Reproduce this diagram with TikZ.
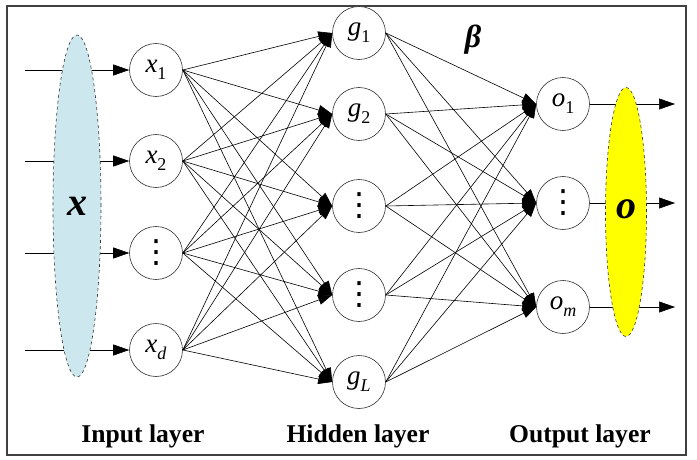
\documentclass[tikz,border=0pt]{standalone}
\usepackage{fontspec}
\setmainfont{Liberation Serif}
\newfontfamily\dvs{DejaVu Sans}
\usetikzlibrary{arrows.meta,shapes.geometric}
\definecolor{inblue}{RGB}{204,232,238}
\definecolor{outyellow}{RGB}{255,255,0}
\newcommand\sub[2]{\textit{#1}\raisebox{-0.25em}{\fontsize{18}{18}\selectfont #2}}
\newcommand\vd{{\dvs\fontsize{32}{32}\selectfont ⋮}}
\begin{document}
\begin{tikzpicture}[x=1pt,y=-1pt,
  neuron/.style={circle,draw=black!80,line width=0.6pt,minimum size=53pt,inner sep=0pt,fill=white,font=\fontsize{27}{27}\selectfont},
  conn/.style={-{Triangle[length=14pt,width=10pt]},line width=0.6pt},
  bigarrow/.style={-{Triangle[length=16pt,width=11pt]},line width=0.6pt},
  blob/.style={ellipse,draw=black!80,dashed,line width=0.6pt,inner sep=0pt},
  layerlabel/.style={anchor=base,font=\fontsize{25.6}{30}\selectfont\bfseries}]
\useasboundingbox (0,0) rectangle (697,460);
\fill[white] (0,0) rectangle (697,460);
\draw[line width=1.4pt,draw=black!75] (7,6) rectangle (686,455);

% input nodes
\node[neuron] (x1) at (156,70) {\sub{x}{1}};
\node[neuron] (x2) at (156,161) {\sub{x}{2}};
\node[neuron] (x3) at (156,253) {\vd};
\node[neuron] (x4) at (156,350) {\sub{x}{\textit{d}}};

% hidden nodes
\node[neuron] (h1) at (359,33) {\sub{g}{1}};
\node[neuron] (h2) at (359,114) {\sub{g}{2}};
\node[neuron] (h3) at (359,206) {\vd};
\node[neuron] (h4) at (359,295) {\vd};
\node[neuron] (h5) at (359,382) {\sub{g}{\textit{L}}};

% output nodes
\node[neuron] (o1) at (563,104) {\sub{o}{1}};
\node[neuron] (o2) at (563,203) {\vd};
\node[neuron] (o3) at (563,307) {\sub{o}{\textit{m}}};

% connections
\foreach \i in {x1,x2,x3,x4}
  \foreach \j in {h1,h2,h3,h4,h5}
    \draw[conn] (\i.east) -- (\j.west);
\foreach \i in {h1,h2,h3,h4,h5}
  \foreach \j in {o1,o2,o3}
    \draw[conn] (\i.east) -- (\j.west);

% input and output arrows
\coordinate (ie) at (25,0);
\coordinate (oe) at (675,0);
\foreach \i in {x1,x2,x3,x4}
  \draw[bigarrow] (\i.west -| ie) -- (\i.west);
\foreach \j in {o1,o2,o3}
  \draw[bigarrow] (\j.east) -- (\j.east -| oe);

% vectors
\node[blob,fill=inblue,minimum width=48pt,minimum height=342pt] (X) at (77,206)
  {\fontsize{40}{40}\selectfont\bfseries\itshape x};
\node[blob,fill=outyellow,minimum width=41pt,minimum height=249pt] (O) at (626,212)
  {\raisebox{6pt}{\fontsize{40}{40}\selectfont\bfseries\itshape o}};

\node (beta) at (473,40) {\fontsize{32}{32}\selectfont\bfseries\itshape β};

% layer labels
\node[layerlabel] (li) at (143,442) {Input layer};
\node[layerlabel] (lh) at (358,442) {Hidden layer};
\node[layerlabel] (lo) at (580,442) {Output layer};
\end{tikzpicture}
\end{document}
